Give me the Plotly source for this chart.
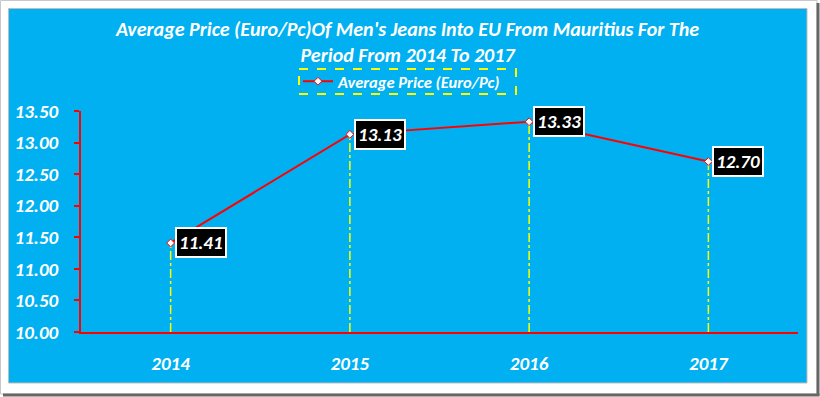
import plotly.graph_objects as go

years = ["2014", "2015", "2016", "2017"]
avg_price = [11.41, 13.13, 13.33, 12.70]
price_labels = ["11.41", "13.13", "13.33", "12.70"]
y_ticks = [10.0, 10.5, 11.0, 11.5, 12.0, 12.5, 13.0, 13.5]
y_tick_text = ["10.00", "10.50", "11.00", "11.50", "12.00", "12.50", "13.00", "13.50"]
series_name = "Average Price (Euro/Pc)"
title_text = "Average Price (Euro/Pc)Of Men's Jeans Into EU From Mauritius For The<br>Period From 2014 To 2017"

W, H = 820, 397
L, R, T, B = 81, 22, 111, 65
PW, PH = W - L - R, H - T - B
FONT = "Calibri, Carlito, Lato, sans-serif"
BLUE = "#00B0F0"

def px_x(px):
    return (px - L) / PW

def px_y(py):
    return (H - B - py) / PH

fig = go.Figure()

# drop lines
for yr, v in zip(years, avg_price):
    fig.add_trace(go.Scatter(
        x=[yr, yr], y=[y_ticks[0], v], mode="lines",
        line=dict(color="#FFFF00", width=1.5, dash="dashdot"),
        showlegend=False, hoverinfo="skip"))

fig.add_trace(go.Scatter(
    x=years, y=avg_price, mode="lines+markers",
    name="<b><i>%s</i></b>" % series_name,
    line=dict(color="#FF0000", width=2),
    marker=dict(symbol="diamond", size=6, color="white",
                line=dict(color="#FF0000", width=1)),
))

annotations = []
for i, (v, t) in enumerate(zip(avg_price, price_labels)):
    annotations.append(dict(
        x=i, y=v, xref="x", yref="y", text="<b><i>%s</i></b>" % t,
        showarrow=False, xanchor="left", yanchor="middle", xshift=4,
        font=dict(family=FONT, size=19, color="white"),
        bgcolor="black", bordercolor="white", borderwidth=2, borderpad=2))

shapes = [
    dict(type="rect", xref="paper", yref="paper", layer="below",
         x0=px_x(0.5), x1=px_x(817), y0=px_y(0.5), y1=px_y(394),
         line=dict(color="#c8c8c8", width=1), fillcolor="white"),
    dict(type="line", xref="paper", yref="paper", layer="below",
         x0=px_x(818), x1=px_x(818), y0=px_y(3), y1=px_y(395.5),
         line=dict(color="#666666", width=3)),
    dict(type="line", xref="paper", yref="paper", layer="below",
         x0=px_x(3), x1=px_x(819.5), y0=px_y(395), y1=px_y(395),
         line=dict(color="#666666", width=3)),
    dict(type="rect", xref="paper", yref="paper", layer="below",
         x0=px_x(8.5), x1=px_x(807), y0=px_y(8.5), y1=px_y(383),
         line=dict(color="#bdbdbd", width=1), fillcolor=BLUE),
    dict(type="rect", xref="paper", yref="paper", layer="above",
         x0=px_x(299), x1=px_x(516), y0=px_y(69), y1=px_y(94),
         line=dict(color="#FFFF00", width=2, dash="dash")),
]

fig.update_layout(
    width=W, height=H,
    margin=dict(l=L, r=R, t=T, b=B),
    paper_bgcolor="white", plot_bgcolor="rgba(0,0,0,0)",
    shapes=shapes,
    annotations=annotations,
    title=dict(text="<b><i>%s</i></b>" % title_text, x=0.497, xanchor="center",
               y=1 - 36 / H, yanchor="middle", yref="container",
               font=dict(family=FONT, size=20, color="white")),
    legend=dict(x=px_x(298), y=px_y(81.5), xanchor="left", yanchor="middle",
                bgcolor="rgba(0,0,0,0)", borderwidth=0,
                font=dict(family=FONT, size=16.5, color="white"),
                itemwidth=30),
    xaxis=dict(type="category", range=[-0.5, 3.5], showgrid=False,
               showline=True, linecolor="#FF0000", linewidth=2,
               ticks="", tickfont=dict(family=FONT, size=19, color="white"),
               ticklabelstandoff=13, zeroline=False,
               tickvals=years, ticktext=["<b><i>%s</i></b>" % y for y in years]),
    yaxis=dict(range=[10, 13.5], showgrid=False, zeroline=False,
               showline=True, linecolor="#FF0000", linewidth=2,
               ticks="outside", tickcolor="#FF0000", ticklen=5, tickwidth=2,
               tickvals=y_ticks,
               ticktext=["<b><i>%s</i></b>" % t for t in y_tick_text],
               tickfont=dict(family=FONT, size=19, color="white"),
               ticklabelstandoff=12),
    showlegend=True,
)

fig.write_html("out.html", config={"displayModeBar": False},
               post_script="document.body.style.margin='0px';")
